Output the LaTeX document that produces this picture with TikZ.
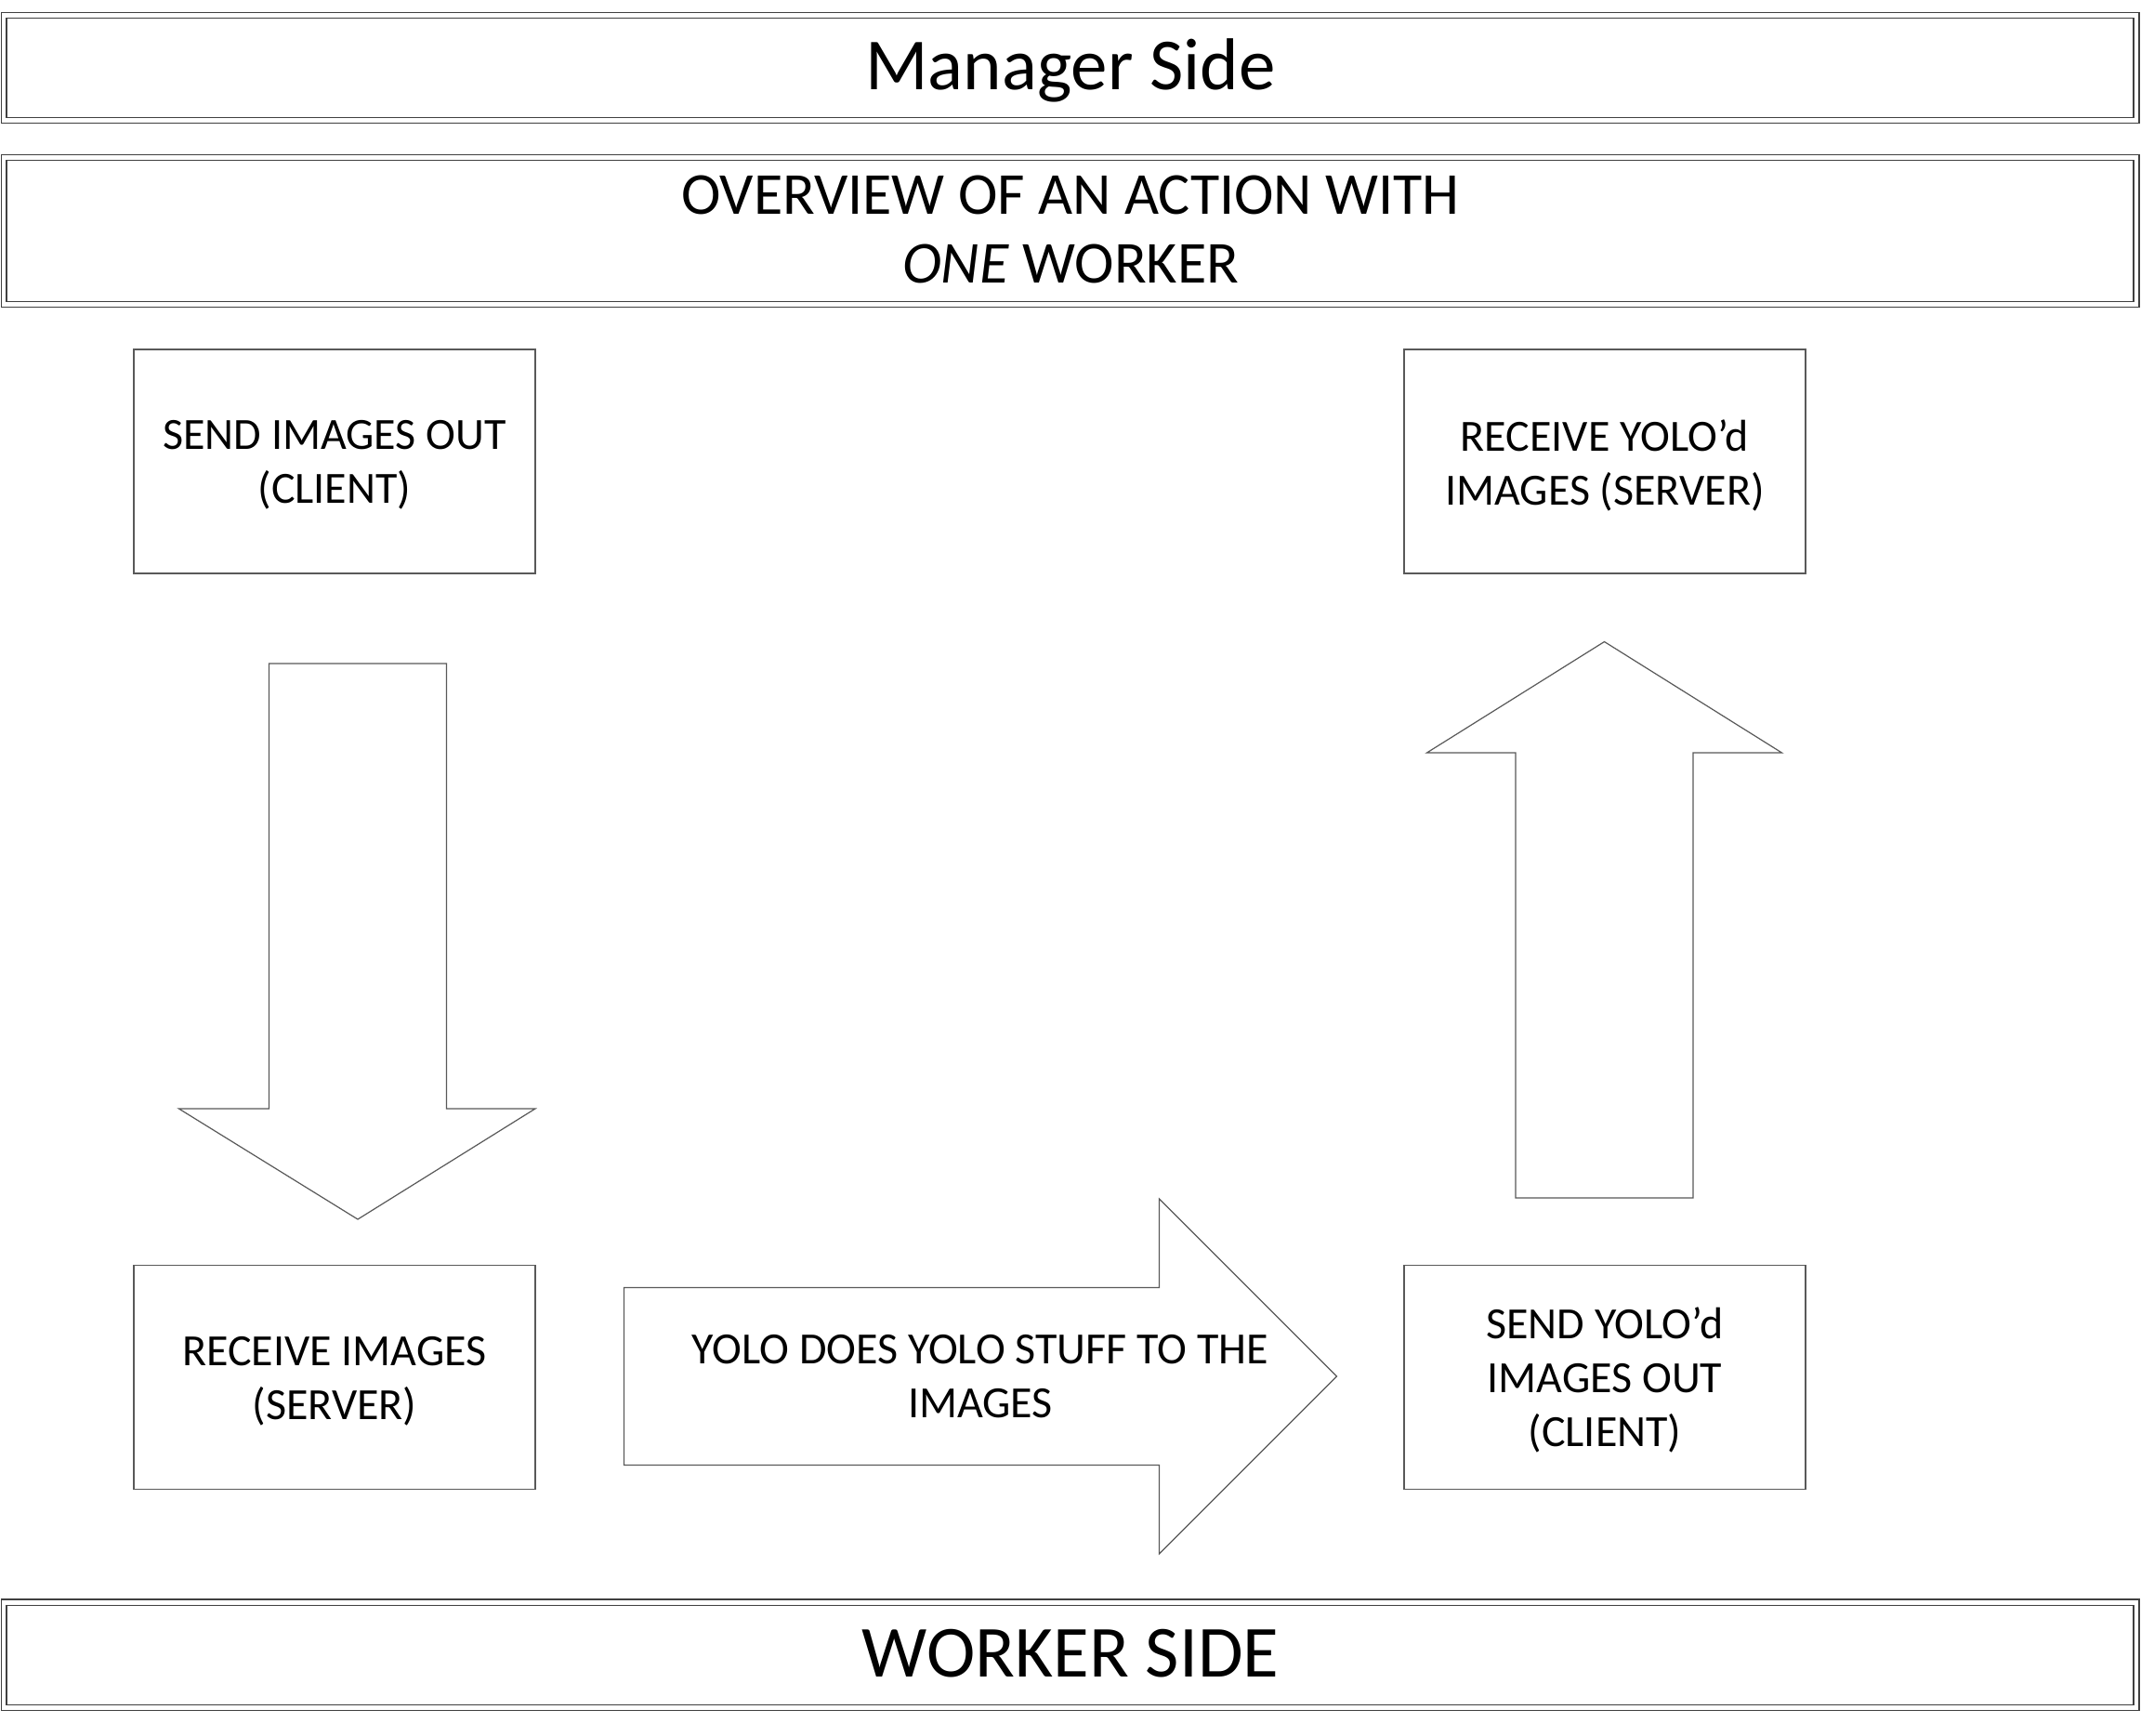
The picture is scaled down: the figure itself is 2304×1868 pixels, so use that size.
\documentclass[tikz,border=0pt]{standalone}
\usepackage{fontspec}
\setmainfont{Carlito}
\begin{document}
\begin{tikzpicture}[x=0.5pt,y=-0.5pt,
  frameline/.style={draw=black!75,line width=0.7pt},
  boxline/.style={draw=black!65,line width=0.6pt},
  arrowline/.style={draw=black!65,line width=0.6pt,line join=miter},
  boxtxt/.style={font=\fontsize{24}{29}\selectfont,align=center,inner sep=0pt},
  stepbox/.style={boxline,minimum width=216pt,minimum height=120.5pt,inner sep=0pt},
  headtxt/.style={font=\fontsize{39.5}{47}\selectfont,inner sep=0pt},
]
\useasboundingbox (0,0) rectangle (2304,1868);
\fill[white] (0,0) rectangle (2304,1868);
% top frame
\draw[frameline] (1.5,13.5) rectangle (2302,132.5);
\draw[frameline] (7,19.5) rectangle (2296,126.5);
\node[headtxt] (mgr) at (1152,76) {Manager Side};
% overview frame
\draw[frameline] (1.5,166.5) rectangle (2302,330.5);
\draw[frameline] (7,172.5) rectangle (2296,324.5);
\node[font=\fontsize{32}{36}\selectfont,inner sep=0pt] (ov1) at (1152,210) {OVERVIEW OF AN ACTION WITH};
\node[font=\fontsize{32}{36}\selectfont,inner sep=0pt] (ov2) at (1152,284) {\textit{ONE} WORKER};
% bottom frame
\draw[frameline] (1.5,1721) rectangle (2302,1840.5);
\draw[frameline] (7,1727.5) rectangle (2296,1834.5);
\node[headtxt] (wrk) at (1152,1779.5) {WORKER SIDE};
% boxes
\node[stepbox] (sendimg) at (360,496.5) {};
\node[boxtxt,yshift=-2pt] at (sendimg.center) {SEND IMAGES OUT\\(CLIENT)};
\node[stepbox] (recvyolo) at (1727,496.5) {};
\node[boxtxt,yshift=-2pt] at (recvyolo.center) {RECEIVE YOLO’d\\IMAGES (SERVER)};
\node[stepbox] (recvimg) at (360,1482) {};
\node[boxtxt,yshift=-2pt] at (recvimg.center) {RECEIVE IMAGES\\(SERVER)};
\node[stepbox] (sendyolo) at (1727,1482) {};
\node[boxtxt,yshift=-1.5pt] at (sendyolo.center) {SEND YOLO’d\\IMAGES OUT\\(CLIENT)};
% down arrow
\draw[arrowline] (289.5,714) -- (480.5,714) -- (480.5,1193) -- (576,1193) -- (385,1312)
  -- (192.5,1193) -- (289.5,1193) -- cycle;
% up arrow
\draw[arrowline] (1631,1289) -- (1822,1289) -- (1822,810) -- (1917.5,810) -- (1726.5,690.5)
  -- (1535.5,810) -- (1631,810) -- cycle;
% right arrow
\draw[arrowline] (671.5,1385.5) -- (1247.5,1385.5) -- (1247.5,1290) -- (1438.5,1481)
  -- (1247.5,1672) -- (1247.5,1576.5) -- (671.5,1576.5) -- cycle;
\node[boxtxt] (yolo) at (1055,1481) {YOLO DOES YOLO STUFF TO THE\\IMAGES};
\end{tikzpicture}
\end{document}
